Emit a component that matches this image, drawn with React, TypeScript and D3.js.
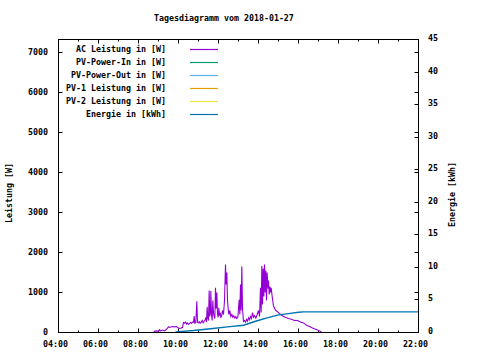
import React from "react";
import * as d3 from "d3";

const title = "Tagesdiagramm vom 2018-01-27";
const xTickLabels = ["04:00", "06:00", "08:00", "10:00", "12:00", "14:00", "16:00", "18:00", "20:00", "22:00"];
const yLeftTicks = [0, 1000, 2000, 3000, 4000, 5000, 6000, 7000];
const yRightTicks = [0, 5, 10, 15, 20, 25, 30, 35, 40, 45];

const seriesNames = [
  "AC Leistung in [W]",
  "PV-Power-In in [W]",
  "PV-Power-Out in [W]",
  "PV-1 Leistung in [W]",
  "PV-2 Leistung in [W]",
  "Energie in [kWh]",
];
const seriesColors = ["#9400d3", "#009e73", "#56b4e9", "#e69f00", "#f0e442", "#0072b2"];

const acTimes = [
  "08:45", "08:48", "08:54", "09:00", "09:03", "09:06", "09:12", "09:18", "09:24", "09:30",
  "09:36", "09:42", "09:48", "09:54", "10:00", "10:06", "10:12",
  "10:15", "10:18", "10:21", "10:24", "10:27", "10:30", "10:33", "10:36", "10:39", "10:42",
  "10:45", "10:47", "10:49", "10:52", "10:55", "10:57", "10:59",
  "11:02", "11:05", "11:08", "11:11", "11:14", "11:17", "11:20",
  "11:22", "11:24", "11:26", "11:28", "11:30",
  "11:32", "11:34", "11:36", "11:37", "11:39", "11:41",
  "11:43", "11:45", "11:47", "11:49", "11:51", "11:53", "11:55", "11:57", "11:59",
  "12:01", "12:03", "12:05", "12:07", "12:09", "12:12", "12:15",
  "12:18", "12:21", "12:23", "12:25", "12:27", "12:29", "12:31",
  "12:34", "12:37", "12:40", "12:43", "12:46", "12:49", "12:52", "12:55", "12:58",
  "13:02", "13:04", "13:06", "13:08", "13:10", "13:12", "13:15",
  "13:18", "13:21", "13:24", "13:27", "13:30", "13:33", "13:36", "13:39", "13:42", "13:45", "13:48", "13:52", "13:56",
  "14:00", "14:03", "14:06", "14:08", "14:10", "14:12", "14:14", "14:16", "14:18", "14:20", "14:22", "14:24",
  "14:26", "14:28", "14:30", "14:32", "14:34", "14:36", "14:38",
  "14:41", "14:45", "14:51", "14:57", "15:03", "15:09", "15:15", "15:21", "15:30", "15:39",
  "15:48", "15:57", "16:06", "16:15", "16:24", "16:33", "16:42", "16:51", "17:00", "17:06", "17:10",
];
const acValues = [
  0, 30, 40, 30, 70, 40, 60, 40, 80, 140,
  130, 150, 140, 150, 110, 100, 130,
  250, 230, 260, 210, 240, 200, 220, 250, 230, 260,
  260, 410, 230, 250, 780, 260, 240,
  270, 230, 260, 300, 240, 280, 320,
  380, 260, 640, 350, 300,
  1050, 400, 500, 1040, 450, 300,
  800, 500, 400, 350, 1120, 600, 1000, 450, 380,
  620, 420, 500, 380, 400, 550, 450,
  800, 1700, 1200, 1500, 800, 600, 450,
  550, 400, 450, 380, 420, 360, 400, 350, 380,
  820, 450, 1200, 550, 1650, 600, 280,
  300, 260, 330, 280, 370, 320, 400, 350, 500, 380, 420, 360, 450,
  550, 400, 1120, 500, 1660, 700, 1600, 900, 1700, 1000, 1550, 800,
  1500, 1100, 1300, 950, 1150, 1000, 1120,
  900, 660, 560, 520, 470, 430, 400, 380, 350, 330,
  300, 300, 260, 240, 180, 150, 110, 80, 50, 25, 0,
];

const pvInTimes: string[] = [];
const pvInValues: number[] = [];
const pvOutTimes: string[] = [];
const pvOutValues: number[] = [];
const pv1Times: string[] = [];
const pv1Values: number[] = [];
const pv2Times: string[] = [];
const pv2Values: number[] = [];

const energyTimes = ["09:51", "10:45", "11:36", "12:27", "13:15", "13:56", "14:26", "15:00", "15:30", "16:00", "16:15", "22:00"];
const energyValues = [0.1, 0.3, 0.57, 0.87, 1.12, 1.8, 2.25, 2.7, 2.9, 3.1, 3.17, 3.17];

const toHours = (s: string) => {
  const [h, m] = s.split(":").map(Number);
  return h + m / 60;
};

const L = 58.5, R = 418.5, T = 39.5, B = 332.5;
const FONT = "'DejaVu Sans Mono', monospace";
const FS = 8.3;

export default function App() {
  const x = d3.scaleLinear().domain([4, 22]).range([L, R]);
  const yL = d3.scaleLinear().domain([0, 7325]).range([B, T]);
  const yR = d3.scaleLinear().domain([0, 45]).range([B, T]);

  const mk = (times: string[], vals: number[], ys: d3.ScaleLinear<number, number>) =>
    d3.line<number>().x((_, i) => x(toHours(times[i]))).y((v) => ys(v))(vals) || "";

  const wSeries = [
    { times: acTimes, vals: acValues },
    { times: pvInTimes, vals: pvInValues },
    { times: pvOutTimes, vals: pvOutValues },
    { times: pv1Times, vals: pv1Values },
    { times: pv2Times, vals: pv2Values },
  ];

  const hours = d3.range(4, 23);

  return (
    <svg width={480} height={360} style={{ display: "block", position: "absolute", left: 0, top: 0, background: "#fff" }}
      fontFamily={FONT} fontSize={FS} fontWeight="bold">
      <rect x={0} y={0} width={480} height={360} fill="#fff" />
      <text x={154} y={21}>{title}</text>

      {hours.map((h) => {
        const len = h % 2 === 0 ? 4 : 2;
        const px = Math.round(x(h)) + 0.5 - 1;
        return (
          <g key={"xt" + h}>
            <line x1={px} x2={px} y1={B} y2={B - len} stroke="#000" />
            <line x1={px} x2={px} y1={T} y2={T + len} stroke="#000" />
          </g>
        );
      })}
      {xTickLabels.map((lab) => (
        <text key={lab} x={x(toHours(lab)) - 3} y={347} textAnchor="middle">{lab}</text>
      ))}

      {yLeftTicks.map((v) => {
        const py = Math.round(yL(v) - 0.5) + 0.5;
        return (
          <g key={"yl" + v}>
            <line x1={L} x2={L + 4} y1={py} y2={py} stroke="#000" />
            <line x1={R} x2={R - 4} y1={py} y2={py} stroke="#000" />
            <text x={48} y={py + 2} textAnchor="end">{v}</text>
          </g>
        );
      })}
      {yRightTicks.map((v) => {
        const py = Math.round(yR(v) - 0.5) + 0.5;
        return (
          <g key={"yr" + v}>
            <line x1={R} x2={R - 4} y1={py} y2={py} stroke="#000" />
            <text x={428} y={py + 1.5}>{v}</text>
          </g>
        );
      })}

      <text transform="translate(11.5,193) rotate(-90)" textAnchor="middle">Leistung [W]</text>
      <text transform="translate(455,194.5) rotate(-90)" textAnchor="middle">Energie [kWh]</text>

      <g fill="none" strokeWidth={1.1} strokeLinejoin="miter">
        {wSeries.map((s, i) => (
          <path key={"s" + i} d={mk(s.times, s.vals, yL)} stroke={seriesColors[i]} />
        ))}
        <path d={mk(energyTimes, energyValues, yR)} stroke={seriesColors[5]} strokeWidth={1.4} />
      </g>

      {seriesNames.map((n, i) => {
        const ly = 49.5 + i * 13;
        return (
          <g key={n}>
            <text x={166} y={ly + 2.5} textAnchor="end">{n}</text>
            <line x1={190} x2={218} y1={ly} y2={ly} stroke={seriesColors[i]} strokeWidth={1.2} />
          </g>
        );
      })}

      <rect x={L} y={T} width={R - L} height={B - T} fill="none" stroke="#000" />
    </svg>
  );
}
